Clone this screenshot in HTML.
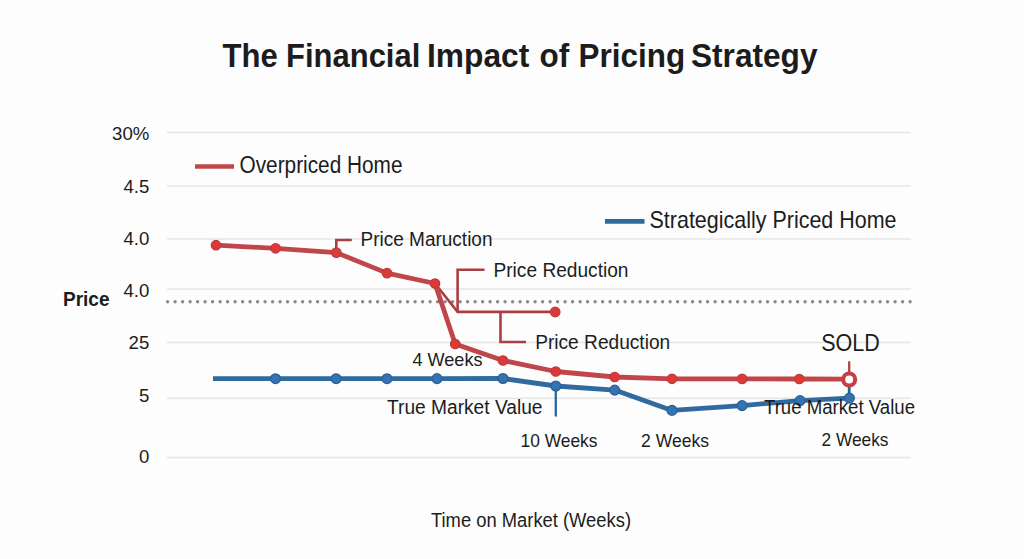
<!DOCTYPE html>
<html><head><meta charset="utf-8">
<style>
html,body{margin:0;padding:0;background:#fdfdfd;width:1024px;height:559px;overflow:hidden}
svg{display:block}
text{font-family:"Liberation Sans",sans-serif;fill:#1c1c1c}
</style></head>
<body>
<svg width="1024" height="559" viewBox="0 0 1024 559">
<rect width="1024" height="559" fill="#fdfdfd"/>
<!-- title -->
<g font-size="32.5" font-weight="bold" fill="#1a1a1a">
<text x="222.5" y="66.6" textLength="55.25" lengthAdjust="spacingAndGlyphs">The</text>
<text x="286.1" y="66.6" textLength="134.2" lengthAdjust="spacingAndGlyphs">Financial</text>
<text x="427.05" y="66.6" textLength="102.2" lengthAdjust="spacingAndGlyphs">Impact</text>
<text x="539.5" y="66.6" textLength="29.7" lengthAdjust="spacingAndGlyphs">of</text>
<text x="578.6" y="66.6" textLength="106.5" lengthAdjust="spacingAndGlyphs">Pricing</text>
<text x="691" y="66.6" textLength="126.5" lengthAdjust="spacingAndGlyphs">Strategy</text>
</g>
<!-- gridlines -->
<g stroke="#e6e6e6" stroke-width="1.5">
<line x1="167" y1="132.6" x2="911" y2="132.6"/>
<line x1="167" y1="185.9" x2="911" y2="185.9"/>
<line x1="167" y1="239.1" x2="911" y2="239.1"/>
<line x1="167" y1="289" x2="911" y2="289"/>
<line x1="167" y1="342.5" x2="911" y2="342.5"/>
<line x1="167" y1="398.3" x2="911" y2="398.3"/>
<line x1="167" y1="457.6" x2="911" y2="457.6"/>
</g>
<!-- dotted line -->
<line x1="167.6" y1="301.8" x2="912" y2="301.8" stroke="#8a8a8a" stroke-width="3.4" stroke-linecap="round" stroke-dasharray="0 7.5"/>
<!-- y labels -->
<g font-size="18.6" text-anchor="end" fill="#262626">
<text x="149.3" y="139.8">30%</text>
<text x="149.3" y="193.2">4.5</text>
<text x="149.3" y="245.4">4.0</text>
<text x="149.3" y="297.2">4.0</text>
<text x="149.3" y="349">25</text>
<text x="149.3" y="401.8">5</text>
<text x="149.3" y="463.4">0</text>
</g>
<text x="63" y="305.6" font-size="20" font-weight="bold" textLength="46.5" lengthAdjust="spacingAndGlyphs" fill="#111">Price</text>
<!-- legends -->
<line x1="195" y1="166.5" x2="234" y2="166.5" stroke="#c0464a" stroke-width="4.7"/>
<text x="239.5" y="173.3" font-size="23" textLength="163" lengthAdjust="spacingAndGlyphs">Overpriced Home</text>
<line x1="605" y1="221.4" x2="644.5" y2="221.4" stroke="#2f6b9f" stroke-width="4.7"/>
<text x="649.5" y="228.4" font-size="24" textLength="247" lengthAdjust="spacingAndGlyphs">Strategically Priced Home</text>
<!-- brackets -->
<g stroke="#aa3f42" stroke-width="2.6" fill="none">
<polyline points="336.3,252 336.3,240 351.8,240"/>
<polyline points="435,283.5 457.6,311.9 555,311.9"/>
<polyline points="484.5,269.8 457.6,269.8 457.6,311.9"/>
<polyline points="500.5,311.9 500.5,342 526,342"/>
</g>
<circle cx="555.2" cy="312" r="4.8" fill="#dc3a38" stroke="#bf3a3a" stroke-width="1.2"/>
<!-- blue line -->
<g stroke="#2f6b9f" stroke-width="4.8" fill="none" stroke-linejoin="round">
<polyline points="213,378.7 275.5,378.7 336.1,378.7 387,378.7 437,378.6 503,378.5 555.8,386 614.7,390.1 672,410.4 742.1,405.6 800.1,400.6 849.4,398.1"/>
</g>
<line x1="555.8" y1="386" x2="555.8" y2="416.5" stroke="#2f6b9f" stroke-width="2.4"/>
<line x1="849.2" y1="386" x2="849.2" y2="398" stroke="#2f5f90" stroke-width="2.8"/>
<g fill="#3474b3" stroke="#2b6096" stroke-width="1.3">
<circle cx="275.5" cy="378.7" r="4.9"/><circle cx="336.1" cy="378.7" r="4.9"/><circle cx="387" cy="378.7" r="4.9"/><circle cx="437" cy="378.6" r="4.9"/><circle cx="503" cy="378.5" r="4.9"/><circle cx="555.8" cy="386" r="4.9"/><circle cx="614.7" cy="390.1" r="4.9"/><circle cx="672" cy="410.4" r="4.9"/><circle cx="742.1" cy="405.6" r="4.9"/><circle cx="800.1" cy="400.6" r="4.9"/><circle cx="849.4" cy="398.1" r="4.9"/>
</g>
<!-- red line -->
<g stroke="#c0464a" stroke-width="4.8" fill="none" stroke-linejoin="round">
<polyline points="216,245.2 275.6,248.3 336.3,252.6 387,273.1 435,283.5 455.2,344 503,360.5 555.8,371.5 614.7,377 672,378.8 742.1,378.9 799.3,379 849.4,379.2"/>
</g>
<g fill="#dc3a38" stroke="#bf3a3a" stroke-width="1.3">
<circle cx="216" cy="245.2" r="4.7"/><circle cx="275.6" cy="248.3" r="4.7"/><circle cx="336.3" cy="252.6" r="4.7"/><circle cx="387" cy="273.1" r="4.7"/><circle cx="435" cy="283.5" r="4.7"/><circle cx="455.2" cy="344" r="4.7"/><circle cx="503" cy="360.5" r="4.7"/><circle cx="555.8" cy="371.5" r="4.7"/><circle cx="614.7" cy="377" r="4.7"/><circle cx="672" cy="378.8" r="4.7"/><circle cx="742.1" cy="378.9" r="4.7"/><circle cx="799.3" cy="379" r="4.7"/>
</g>
<!-- SOLD marker -->
<line x1="849.2" y1="361.3" x2="849.2" y2="372" stroke="#b03a3f" stroke-width="2.2"/>
<circle cx="849.2" cy="379.5" r="6" fill="#fff" stroke="#c53f45" stroke-width="4"/>
<!-- labels -->
<g font-size="20" lengthAdjust="spacingAndGlyphs">
<text x="360.5" y="246.4" textLength="132" lengthAdjust="spacingAndGlyphs">Price Maruction</text>
<text x="493.5" y="276.6" textLength="135" lengthAdjust="spacingAndGlyphs">Price Reduction</text>
<text x="535.2" y="349" textLength="135" lengthAdjust="spacingAndGlyphs">Price Reduction</text>
<text x="412.5" y="366" font-size="18.5" textLength="70" lengthAdjust="spacingAndGlyphs">4 Weeks</text>
<text x="387" y="413.8" textLength="155.5" lengthAdjust="spacingAndGlyphs">True Market Value</text>
<text x="764" y="413.9" textLength="151" lengthAdjust="spacingAndGlyphs">True Market Value</text>
<text x="520.5" y="447.2" font-size="19" textLength="77" lengthAdjust="spacingAndGlyphs">10 Weeks</text>
<text x="641" y="446.8" font-size="19" textLength="68" lengthAdjust="spacingAndGlyphs">2 Weeks</text>
<text x="821.5" y="446.4" font-size="19" textLength="67" lengthAdjust="spacingAndGlyphs">2 Weeks</text>
<text x="431" y="527.1" textLength="200" lengthAdjust="spacingAndGlyphs">Time on Market (Weeks)</text>
</g>
<text x="821.3" y="351.1" font-size="23" textLength="58.5" lengthAdjust="spacingAndGlyphs">SOLD</text>
</svg>
</body></html>
